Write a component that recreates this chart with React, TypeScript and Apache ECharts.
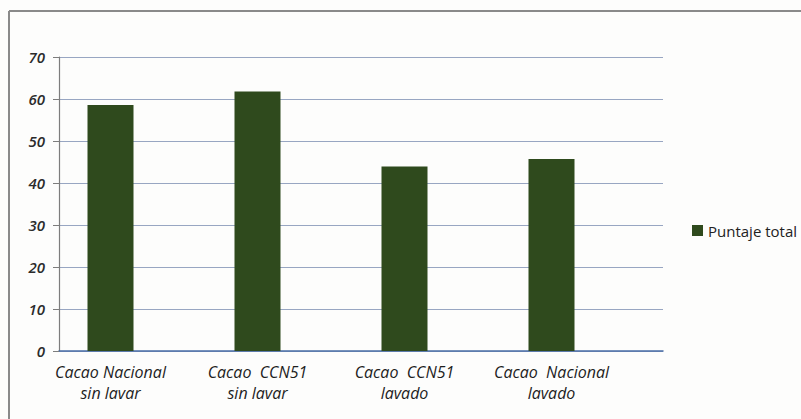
import React, { useEffect, useRef } from "react";
import * as echarts from "echarts";

const categories = [
  "Cacao Nacional\nsin lavar",
  "Cacao  CCN51\nsin lavar",
  "Cacao  CCN51\nlavado",
  "Cacao  Nacional\nlavado",
];
const puntajeTotal = [58.6, 61.8, 43.9, 45.7];
const seriesName = "Puntaje total";
const yMin = 0;
const yMax = 70;
const yStep = 10;

const FONT = "'Open Sans', 'Noto Sans', sans-serif";
const BAR_COLOR = "#2f4a1d";

export default function App() {
  const ref = useRef<HTMLDivElement>(null);

  useEffect(() => {
    if (!ref.current) return;
    const chart = echarts.init(ref.current, null, { renderer: "svg" });

    const plotTop = 57;
    const plotHeight = 294;

    chart.setOption({
      animation: false,
      backgroundColor: "#fdfdfc",
      legend: {
        data: [seriesName],
        left: 687,
        top: 218,
        icon: "rect",
        itemWidth: 11,
        itemHeight: 11,
        textStyle: { fontFamily: FONT, fontSize: 15, color: "#222" },
      },
      grid: [
        // frame grid: value axis, gridlines and baseline
        { left: 59, top: plotTop, width: 604, height: plotHeight, containLabel: false },
        // bar grid: categories and bars
        { left: 37, top: plotTop, width: 588, height: plotHeight, containLabel: false },
      ],
      xAxis: [
        {
          type: "category",
          gridIndex: 0,
          data: categories,
          axisLine: { show: true, lineStyle: { color: "#4a6ea6", width: 1.5 } },
          axisTick: { show: false },
          axisLabel: { show: false },
        },
        {
          type: "category",
          gridIndex: 1,
          data: categories,
          axisLine: { show: false },
          axisTick: { show: false },
          axisLabel: {
            margin: 10,
            fontFamily: FONT,
            fontStyle: "italic",
            fontSize: 16,
            lineHeight: 21,
            color: "#1e1e1e",
            interval: 0,
          },
        },
      ],
      yAxis: [
        {
          type: "value",
          gridIndex: 0,
          min: yMin,
          max: yMax,
          interval: yStep,
          axisLine: { show: true, lineStyle: { color: "#7d7d7d", width: 1.2 } },
          axisTick: { show: true, length: 6, lineStyle: { color: "#7d7d7d" } },
          axisLabel: {
            margin: 14,
            fontFamily: FONT,
            fontStyle: "italic",
            fontWeight: 600,
            fontSize: 15,
            color: "#2b2b2b",
          },
          splitLine: { show: true, lineStyle: { color: "#98a6c2", width: 1 } },
        },
        {
          type: "value",
          gridIndex: 1,
          min: yMin,
          max: yMax,
          interval: yStep,
          show: false,
          splitLine: { show: false },
        },
      ],
      series: [
        {
          name: seriesName,
          type: "bar",
          xAxisIndex: 1,
          yAxisIndex: 1,
          data: puntajeTotal,
          barWidth: 46,
          itemStyle: { color: BAR_COLOR },
        },
      ],
      graphic: [
        {
          type: "line",
          shape: { x1: 9, y1: 11, x2: 801, y2: 11 },
          style: { stroke: "#8a8a8a", lineWidth: 2 },
        },
        {
          type: "line",
          shape: { x1: 9, y1: 11, x2: 9, y2: 419 },
          style: { stroke: "#8a8a8a", lineWidth: 2 },
        },
      ],
    });

    return () => chart.dispose();
  }, []);

  return (
    <div
      ref={ref}
      style={{ position: "fixed", left: 0, top: 0, width: 801, height: 419 }}
    />
  );
}
